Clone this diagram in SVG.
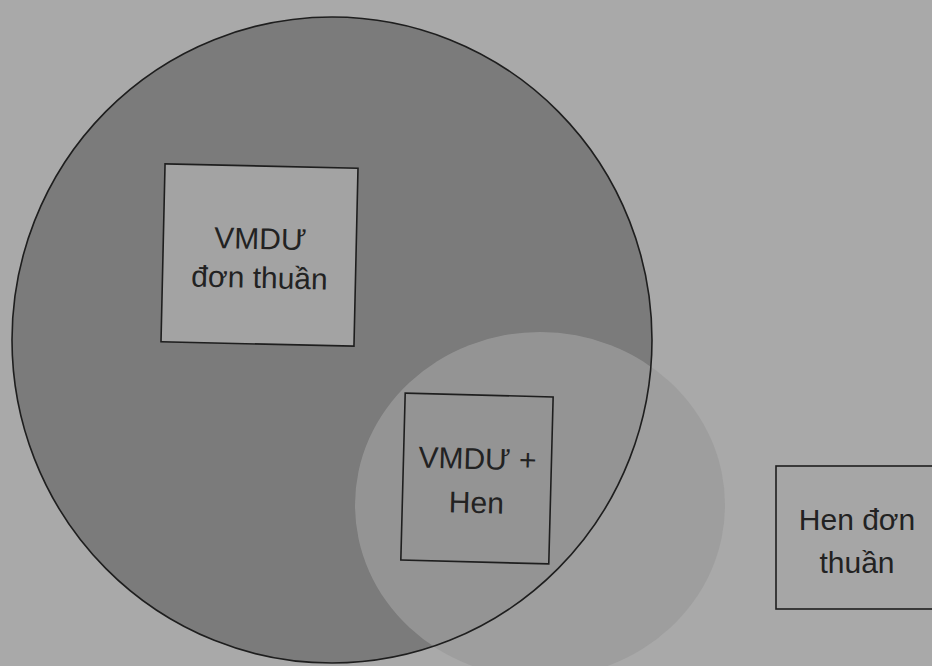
<svg xmlns="http://www.w3.org/2000/svg" width="932" height="666" viewBox="0 0 932 666">
<style>
.box{stroke:#1e1e1e;stroke-width:1.6}
.lbl{font-family:"Liberation Sans",Arial,sans-serif;font-size:30px;fill:#222;text-anchor:middle}
</style>
<rect x="0" y="0" width="932" height="666" fill="#a9a9a9"/>
<g id="set-vmdu">
<ellipse cx="332" cy="340" rx="320" ry="323" fill="#7b7b7b"/>
</g>
<g id="set-hen">
<ellipse cx="540" cy="505" rx="185" ry="173" fill="#9b9b9b" fill-opacity="0.8"/>
</g>
<ellipse cx="332" cy="340" rx="320" ry="323" fill="none" stroke="#1e1e1e" stroke-width="1.6"/>
<g id="vmdu-don-thuan" transform="rotate(1.3 260 255)">
<rect class="box" x="163" y="166" width="193" height="178" fill="#a3a3a3"/>
<text class="lbl" x="260" y="249">VMDƯ</text>
<text class="lbl" x="260" y="288">đơn thuần</text>
</g>
<g id="vmdu-hen" transform="rotate(1.5 477 478)">
<rect class="box" x="403" y="395" width="148" height="167" fill="none"/>
<text class="lbl" x="477" y="469">VMDƯ +</text>
<text class="lbl" x="477" y="513">Hen</text>
</g>
<g id="hen-don-thuan">
<rect class="box" x="776" y="466" width="170" height="143" fill="#a6a6a6"/>
<text class="lbl" x="857" y="530">Hen đơn</text>
<text class="lbl" x="857" y="573">thuần</text>
</g>
</svg>
